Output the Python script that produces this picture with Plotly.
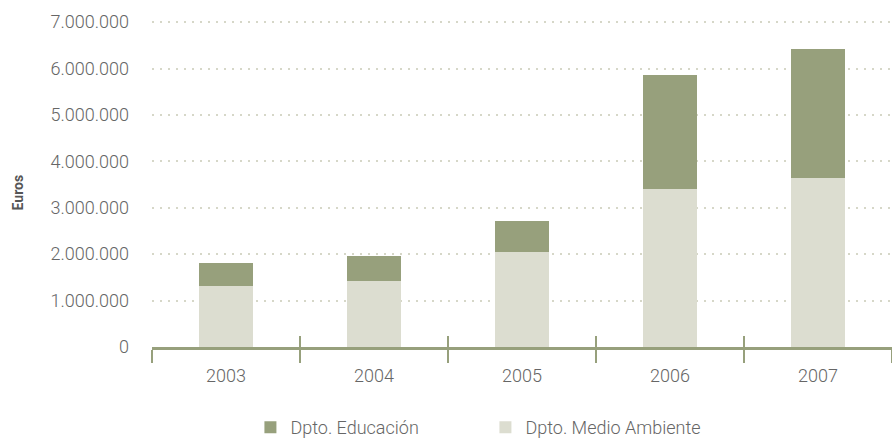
import plotly.graph_objects as go

years = ["2003", "2004", "2005", "2006", "2007"]
medio_ambiente = [1310000, 1420000, 2050000, 3410000, 3650000]
educacion = [490000, 530000, 670000, 2450000, 2770000]
y_ticks = [0, 1000000, 2000000, 3000000, 4000000, 5000000, 6000000, 7000000]

DARK = "#97A07C"
LIGHT = "#DCDDD0"
GRID = "#D6D7C8"
TEXT = "#666666"

fig = go.Figure()
fig.add_trace(go.Bar(x=years, y=medio_ambiente, name="Dpto. Medio Ambiente",
                     marker=dict(color=LIGHT, line=dict(width=0))))
fig.add_trace(go.Bar(x=years, y=educacion, name="Dpto. Educación",
                     marker=dict(color=DARK, line=dict(width=0))))

# invisible helper trace on an overlaid axis to draw the upper half of the boundary ticks
fig.add_trace(go.Bar(x=years, y=[0] * len(years), xaxis="x2", showlegend=False,
                     hoverinfo="skip", marker=dict(color="rgba(0,0,0,0)")))

fig.update_layout(
    width=892, height=446,
    margin=dict(l=152, r=0, t=20, b=98),
    paper_bgcolor="white", plot_bgcolor="white",
    barmode="stack", bargap=0.635,
    separators=",.",
    font=dict(family="Roboto", size=18, color=TEXT, weight=300),
    xaxis=dict(
        type="category", range=[-0.5, 4.5],
        showline=True, linecolor=DARK, linewidth=3,
        ticks="outside", tickson="boundaries", ticklen=13, tickwidth=2, tickcolor=DARK,
        showgrid=False, zeroline=False, ticklabelstandoff=10,
        tickfont=dict(size=18, color=TEXT),
    ),
    xaxis2=dict(
        type="category", range=[-0.5, 4.5], overlaying="x", matches="x",
        ticks="inside", tickson="boundaries", ticklen=11, tickwidth=2, tickcolor=DARK,
        showticklabels=False, showgrid=False, zeroline=False, showline=False,
        side="bottom",
    ),
    yaxis=dict(
        range=[0, 7045000], tickvals=y_ticks, tickformat=",d",
        showgrid=True, gridcolor=GRID, gridwidth=2, griddash="2px,6px",
        zeroline=False, showline=False, ticks="",
        ticklabelstandoff=22,
        tickfont=dict(size=18, color=TEXT),
    ),
    legend=dict(
        orientation="h", x=0.133, xanchor="left", y=-0.19, yanchor="top",
        traceorder="reversed", entrywidth=190, entrywidthmode="pixels",
        font=dict(size=18, color=TEXT), itemsizing="constant",
    ),
    annotations=[dict(
        text="<b>Euros</b>", textangle=-90, xref="paper", yref="paper",
        x=(18 - 152) / 740, y=(348 - 193) / 328, xanchor="center", yanchor="middle",
        showarrow=False, font=dict(size=14, color="#555555", weight=500),
    )],
)

fig.write_html("out.html")
